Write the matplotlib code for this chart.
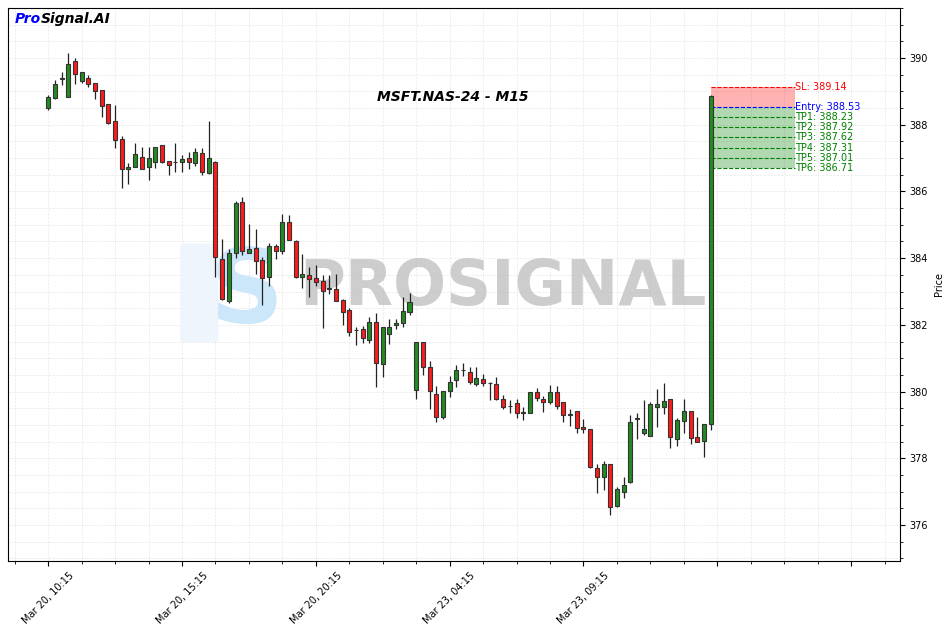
import matplotlib
matplotlib.use('Agg')
import matplotlib.pyplot as plt
import numpy as np
from matplotlib.ticker import MultipleLocator, FixedLocator
from matplotlib.patches import FancyBboxPatch

# ---- candle data (M15 bars) ----
OPEN = [388.49, 388.81, 389.38, 388.84, 389.90, 389.32, 389.39, 389.24, 389.03, 388.61,
        388.11, 387.56, 386.66, 386.72, 387.04, 386.74, 386.87, 387.39, 386.90, 386.88,
        386.87, 386.99, 386.84, 387.14, 386.56, 386.89, 383.96, 382.72, 384.14, 385.68,
        384.16, 384.29, 383.94, 383.42, 384.35, 384.22, 385.09, 384.52, 383.44, 383.48,
        383.40, 383.30, 383.10, 383.09, 382.76, 382.45, 381.85, 381.88, 381.55, 382.08,
        380.82, 381.72, 381.99, 382.05, 382.38, 380.05, 381.48, 380.73, 379.92, 379.23,
        380.02, 380.35, 380.64, 380.58, 380.23, 380.37, 380.26, 380.22, 379.77, 379.58,
        379.65, 379.38, 379.35, 380.00, 379.77, 379.68, 380.00, 379.68, 379.33, 379.42,
        378.93, 378.87, 377.70, 377.43, 377.82, 376.57, 377.00, 377.28, 379.19, 378.75,
        378.68, 379.53, 379.55, 379.77, 378.57, 379.13, 379.42, 378.63, 378.53, 379.03]
HIGH = [388.89, 389.34, 389.59, 390.14, 389.99, 389.58, 389.49, 389.25, 389.04, 388.62,
        388.59, 387.66, 386.84, 387.44, 387.32, 387.32, 387.34, 387.40, 386.91, 387.44,
        387.09, 387.19, 387.31, 387.30, 388.10, 386.90, 384.56, 384.26, 385.70, 385.83,
        385.01, 384.87, 384.04, 384.44, 384.43, 385.32, 385.30, 384.53, 384.12, 383.73,
        383.79, 383.49, 383.49, 383.52, 382.79, 382.50, 381.94, 381.97, 382.23, 382.37,
        381.93, 382.17, 382.17, 382.83, 382.95, 381.49, 381.49, 380.92, 380.18, 380.03,
        380.48, 380.80, 380.85, 380.73, 380.73, 380.52, 380.28, 380.43, 379.90, 379.75,
        379.78, 379.55, 380.00, 380.10, 379.87, 380.20, 380.17, 379.69, 379.47, 379.43,
        379.17, 378.88, 377.83, 377.92, 377.83, 377.15, 377.45, 379.30, 379.35, 379.75,
        379.70, 380.08, 380.25, 379.78, 379.20, 379.77, 379.43, 379.23, 379.04, 388.88]
LOW = [388.44, 388.76, 389.19, 388.82, 389.21, 389.24, 389.14, 388.77, 388.22, 388.03,
       387.29, 386.09, 386.22, 386.72, 386.66, 386.34, 386.69, 386.85, 386.48, 386.59,
       386.59, 386.66, 386.76, 386.49, 386.53, 383.44, 382.75, 382.66, 383.99, 384.09,
       384.14, 383.51, 382.59, 383.17, 383.96, 384.12, 384.53, 383.40, 383.12, 382.83,
       383.16, 381.92, 382.94, 382.71, 381.99, 381.67, 381.40, 381.45, 381.45, 380.13,
       380.43, 381.43, 381.87, 381.95, 382.30, 379.77, 380.50, 379.47, 379.10, 379.17,
       379.85, 380.13, 380.47, 380.23, 380.17, 380.17, 379.75, 379.76, 379.47, 379.37,
       379.20, 379.15, 379.35, 379.73, 379.40, 379.63, 379.47, 379.08, 378.97, 378.77,
       378.77, 377.72, 376.97, 377.05, 376.30, 376.53, 376.80, 377.27, 378.57, 378.70,
       378.68, 378.93, 379.32, 378.32, 378.37, 378.77, 378.42, 378.49, 378.03, 378.85]
CLOSE = [388.82, 389.22, 389.40, 389.81, 389.51, 389.57, 389.21, 389.02, 388.57, 388.04,
         387.54, 386.66, 386.73, 387.11, 386.66, 386.99, 387.32, 386.89, 386.78, 386.89,
         386.96, 386.87, 387.17, 386.59, 386.99, 384.02, 382.77, 384.14, 385.65, 384.22,
         384.26, 383.92, 383.39, 384.36, 384.22, 385.09, 384.54, 383.42, 383.51, 383.38,
         383.28, 383.02, 383.08, 382.72, 382.39, 381.80, 381.85, 381.60, 382.08, 380.85,
         381.93, 381.93, 382.05, 382.41, 382.68, 381.48, 380.73, 380.02, 379.23, 380.02,
         380.28, 380.65, 380.66, 380.30, 380.40, 380.25, 380.25, 379.77, 379.55, 379.57,
         379.35, 379.36, 380.00, 379.80, 379.70, 380.00, 379.58, 379.30, 379.31, 378.90,
         378.87, 377.73, 377.45, 377.82, 376.53, 377.07, 377.20, 379.08, 379.21, 378.87,
         379.63, 379.63, 379.72, 378.65, 379.15, 379.42, 378.62, 378.50, 379.03, 388.87]

TICK_LABELS = ["Mar 20, 10:15", "Mar 20, 15:15", "Mar 20, 20:15", "Mar 23, 04:15", "Mar 23, 09:15", "", ""]
SYMBOL = "MSFT.NAS-24 - M15"

SL = 389.14
ENTRY = 388.53
TP_LEVELS = [388.23, 387.92, 387.62, 387.31, 387.01, 386.71]

UP_COLOR = '#228B22'
DOWN_COLOR = '#ff1a1a'


def drawCandles(ax):
    o = np.array(OPEN)
    h = np.array(HIGH)
    l = np.array(LOW)
    c = np.array(CLOSE)
    x = np.arange(len(o))
    colors = [UP_COLOR if c[i] >= o[i] else DOWN_COLOR for i in range(len(o))]
    ax.vlines(x, l, h, color='#222222', linewidth=0.9, zorder=3)
    bottom = np.minimum(o, c)
    height = np.abs(c - o)
    ax.bar(x, height, width=0.6, bottom=bottom, color=colors,
           edgecolor='#333333', linewidth=0.8, zorder=4)


def drawTradeZone(ax):
    x0 = 99
    x1 = 111.6
    ax.fill_between([x0, x1], ENTRY, SL, color='red', alpha=0.3, linewidth=0, zorder=2)
    ax.fill_between([x0, x1], TP_LEVELS[-1], ENTRY, color='green', alpha=0.3, linewidth=0, zorder=2)
    ax.hlines(SL, x0, x1, colors='red', linestyles='--', linewidth=0.8, zorder=2)
    ax.hlines(ENTRY, x0, x1, colors='blue', linestyles='--', linewidth=0.8, zorder=2)
    ax.text(x1, SL, "SL: %.2f" % SL, color='red', fontsize=7, va='center', ha='left')
    ax.text(x1, ENTRY, "Entry: %.2f" % ENTRY, color='blue', fontsize=7, va='center', ha='left')
    for i, tp in enumerate(TP_LEVELS):
        ax.hlines(tp, x0, x1, colors='green', linestyles='--', linewidth=0.8, zorder=2)
        ax.text(x1, tp, "TP%d: %.2f" % (i + 1, tp), color='green', fontsize=7, va='center', ha='left')


def drawWatermark(ax):
    # faint outline of the logo
    ax.add_patch(FancyBboxPatch((0.197, 0.40), 0.035, 0.17, boxstyle='round,pad=0.004',
                                transform=ax.transAxes, facecolor='#eef5fc',
                                edgecolor='none', zorder=1))
    ax.text(0.555, 0.493, "PROSIGNAL", transform=ax.transAxes, fontsize=45,
            fontweight='bold', color='#bdbdbd', alpha=0.75, ha='center', va='center', zorder=1)
    ax.text(0.268, 0.482, "S", transform=ax.transAxes, fontsize=74,
            fontweight='bold', color='#cce6fa', ha='center', va='center', zorder=1)


def generateGraph():
    fig = plt.figure(figsize=(9.47, 6.32), dpi=100)
    ax = fig.add_axes([8 / 947, 1 - 561 / 632, 892 / 947, 553 / 632])

    drawWatermark(ax)
    drawCandles(ax)
    drawTradeZone(ax)

    ax.set_xlim(-6.0, 127.3)
    ax.set_ylim(374.92, 391.5)

    ax.xaxis.set_major_locator(FixedLocator(range(0, 121, 20)))
    ax.set_xticklabels(TICK_LABELS, rotation=45, fontsize=7)
    ax.xaxis.set_minor_locator(MultipleLocator(5))

    ax.yaxis.tick_right()
    ax.yaxis.set_label_position('right')
    ax.yaxis.set_major_locator(MultipleLocator(2))
    ax.yaxis.set_minor_locator(MultipleLocator(0.5))
    ax.tick_params(axis='y', labelsize=7)
    ax.set_ylabel('Price', fontsize=7)

    ax.grid(True, which='both', color='#e8e8e8', linestyle='--', linewidth=0.5, zorder=0)
    ax.set_axisbelow(True)

    ax.text(0.499, 0.839, SYMBOL, transform=ax.transAxes, fontsize=10,
            fontweight='bold', fontstyle='italic', ha='center', va='center')
    pro = ax.text(0.008, 0.98, "Pro", transform=ax.transAxes, fontsize=10,
                  fontweight='bold', fontstyle='italic', color='blue', ha='left', va='center')
    ax.annotate("Signal.AI", xy=(1, 0), xycoords=pro, fontsize=10,
                fontweight='bold', fontstyle='italic', color='black', ha='left', va='bottom')

    fig.savefig('out.png', dpi=100)


generateGraph()
